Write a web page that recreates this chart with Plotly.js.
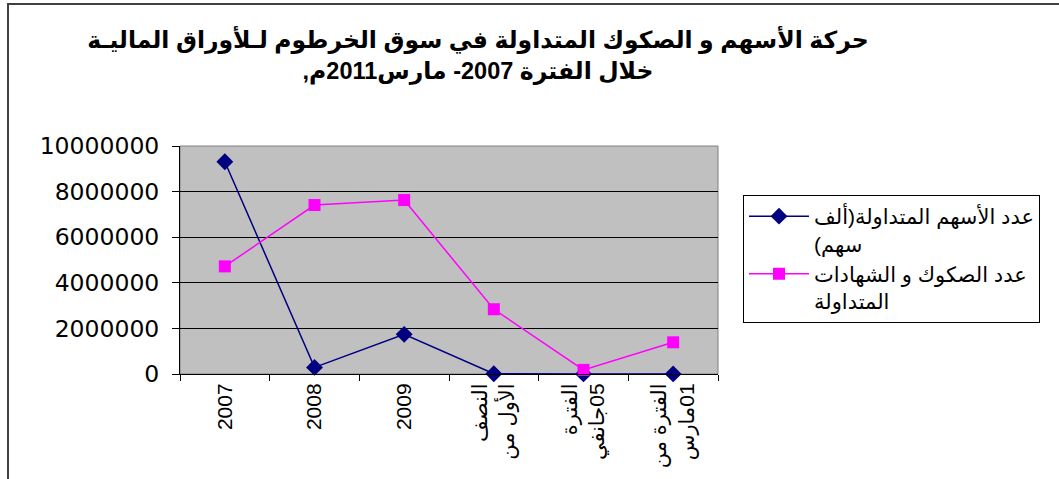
<!DOCTYPE html>
<html>
<head>
<meta charset="utf-8">
<script src="https://cdn.plot.ly/plotly-3.0.1.min.js"></script>
<style>
  html, body { margin: 0; padding: 0; background: #ffffff; }
  #chart { width: 1059px; height: 479px; }
</style>
</head>
<body>
<div id="chart"></div>
<script>
// ---- data ----
var categories = [
  '2007',
  '2008',
  '2009',
  'النصف<br>الأول من',
  'الفترة<br>05جانفي',
  'الفترة من<br>01مارس'
];
var sharesTraded = [9310000, 290000, 1740000, 10000, 5000, 5000];
var sukukTraded  = [4720000, 7410000, 7630000, 2840000, 180000, 1390000];
var seriesNames = [
  'عدد الأسهم المتداولة(ألف<br>سهم)',
  'عدد الصكوك و الشهادات<br>المتداولة'
];
var yTicks = [0, 2000000, 4000000, 6000000, 8000000, 10000000];
var titleLines = [
  'حركة الأسهم و الصكوك المتداولة في سوق الخرطوم لـلأوراق الماليـة',
  'خلال الفترة 2007- مارس2011م,'
];

// right-to-left embedding for each line of Arabic text
function rtl(s) {
  return s.split('<br>').map(function (l) {
    return /[\u0600-\u06FF]/.test(l) ? '\u202B' + l + '\u202C' : l;
  }).join('<br>');
}

var FONT = 'Liberation Sans, DejaVu Sans, Arial, sans-serif';
var catLabels = categories.map(rtl);

var traces = [
  {
    type: 'scatter', mode: 'lines+markers',
    x: categories, y: sharesTraded, name: rtl(seriesNames[0]),
    line: {color: '#000080', width: 1.5},
    marker: {symbol: 'diamond', size: 13, color: '#000080'},
    cliponaxis: false
  },
  {
    type: 'scatter', mode: 'lines+markers',
    x: categories, y: sukukTraded, name: rtl(seriesNames[1]),
    line: {color: '#FF00FF', width: 1.5},
    marker: {symbol: 'square', size: 12, color: '#FF00FF'},
    cliponaxis: false
  }
];

var L = 180, R = 718, T = 146, B = 374, W = 1059, H = 479;
function px2x(p) { return (p - L) / (R - L); }
function px2y(p) { return (B - p) / (B - T); }

var layout = {
  width: W, height: H,
  margin: {l: L, r: W - R, t: T, b: H - B, pad: 0},
  paper_bgcolor: '#ffffff',
  plot_bgcolor: '#C0C0C0',
  font: {family: FONT, color: '#000000'},
  title: {
    text: '<b>' + rtl(titleLines.join('<br>')) + '</b>',
    font: {family: FONT, size: 23.5, color: '#000000'},
    x: 478 / W, xref: 'container', xanchor: 'center',
    y: 1 - 48 / H, yref: 'container', yanchor: 'top'
  },
  showlegend: true,
  legend: {
    x: px2x(743), xanchor: 'left',
    y: px2y(195), yanchor: 'top',
    bgcolor: '#ffffff',
    bordercolor: '#000000', borderwidth: 1,
    font: {family: FONT, size: 21, color: '#000000'},
    valign: 'top',
    itemwidth: 60,
    tracegroupgap: 8
  },
  xaxis: {
    type: 'category',
    categoryorder: 'array', categoryarray: categories,
    tickvals: categories, ticktext: catLabels,
    range: [-0.5, 5.5],
    showgrid: false, zeroline: false,
    showline: true, linecolor: '#000000', linewidth: 1,
    ticks: 'outside', tickson: 'boundaries', ticklen: 6, tickcolor: '#000000',
    tickangle: -90,
    tickfont: {family: FONT, size: 21, color: '#000000'},
    fixedrange: true
  },
  yaxis: {
    range: [0, 10000000],
    tickvals: yTicks,
    tickformat: 'd',
    showgrid: true, gridcolor: '#000000', gridwidth: 1,
    zeroline: false,
    showline: true, linecolor: '#000000', linewidth: 1,
    ticks: 'outside', ticklen: 7, tickcolor: '#000000',
    tickfont: {family: 'DejaVu Sans, Liberation Sans, sans-serif', size: 23.5, color: '#000000'},
    ticklabelstandoff: 8,
    fixedrange: true
  },
  shapes: [
    {type: 'rect', xref: 'paper', yref: 'paper', x0: 0, x1: 1, y0: 0, y1: 1,
     line: {color: '#808080', width: 1}, layer: 'below'},
    {type: 'rect', xref: 'paper', yref: 'paper',
     x0: px2x(8), x1: px2x(1064), y0: px2y(4), y1: px2y(485),
     line: {color: '#404040', width: 2}}
  ]
};

Plotly.newPlot('chart', traces, layout, {displayModeBar: false, staticPlot: true});
</script>
</body>
</html>
